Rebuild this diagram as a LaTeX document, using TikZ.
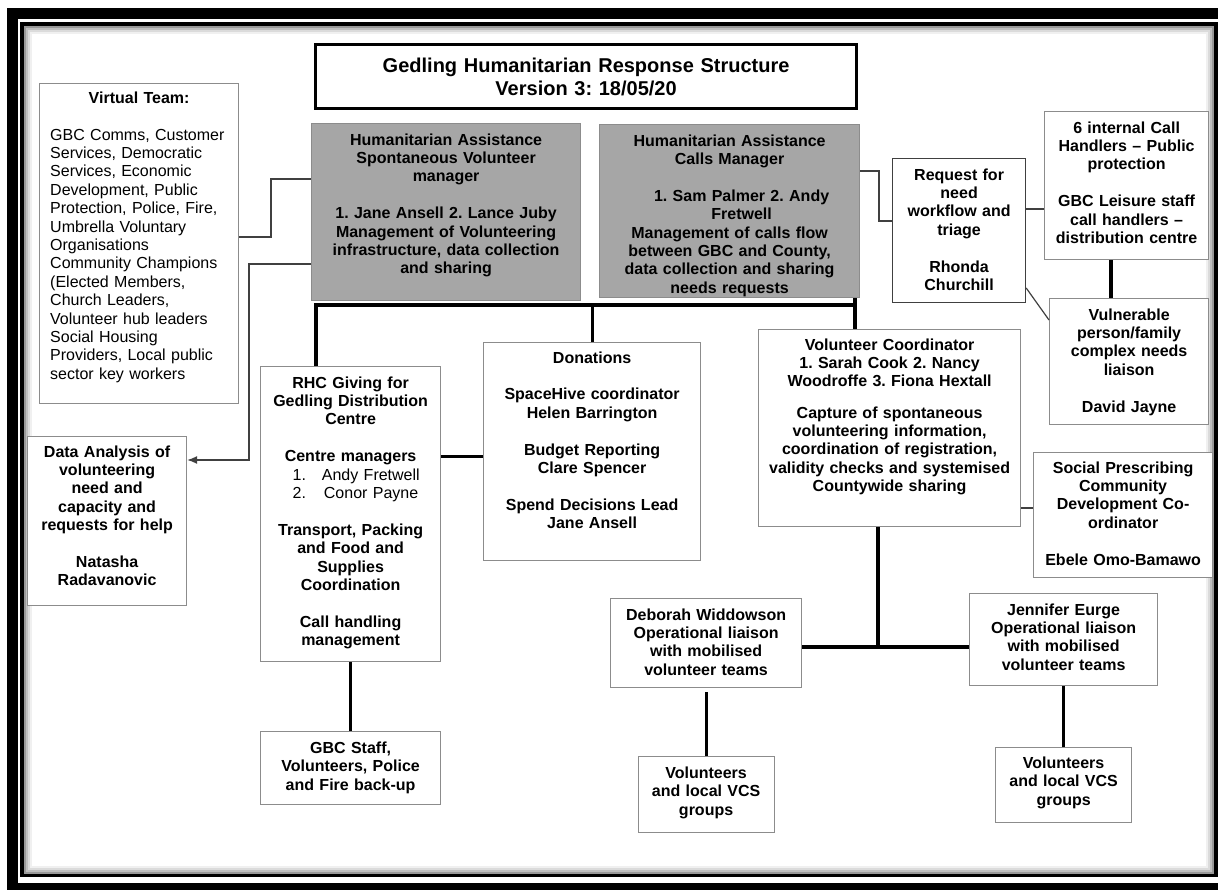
\documentclass[tikz,border=0pt]{standalone}
\usepackage{fontspec}
\setmainfont{Liberation Sans}
\usepackage{xcolor}
\usepackage{tikz}
\usetikzlibrary{positioning}
\usetikzlibrary{arrows.meta}

\definecolor{boxgrey}{HTML}{8C8C8C}
\definecolor{fillgrey}{HTML}{A6A6A6}
\definecolor{linegrey}{HTML}{404040}

\begin{document}
\frenchspacing
\begin{tikzpicture}[x=1pt, y=-1pt,
		box/.style={draw=boxgrey, line width=1.2pt, fill=white, inner sep=0pt, anchor=north west},
		greybox/.style={box, fill=fillgrey},
		txt/.style={inner sep=0pt, anchor=base, align=center, font=\fontsize{16}{18.4}\selectfont\bfseries},
		link/.style={draw=linegrey, line width=1.2pt},
		heavy/.style={draw=black, line width=3.2pt}]
		
		\useasboundingbox (0,0) rectangle (1218,889);
		\clip (0,0) rectangle (1218,889);
		\draw[line width=11pt] (12,13.5) rectangle (1235,888);
		\draw[line width=3.5pt] (22,24) rectangle (1216,875.5);
		\foreach \k/\c in {3/40,5/25,7/14,9/6}
			\draw[black!\c, line width=2pt] (22+\k,24+\k) rectangle (1216-\k,875.5-\k);
		
		\node[box, draw=black, line width=3.2pt, minimum width=541pt, minimum height=64pt](title) at (314,43){};
		\node[txt, text width=530pt, font=\fontsize{20}{23}\selectfont\bfseries](titletxt) at ([yshift=-29pt]title.north){Gedling Humanitarian Response Structure\\Version 3: 18/05/20};
		
		\node[box, minimum width=199pt, minimum height=320pt](vteam) at (39,83){};
		\node[txt, text width=190pt](vteamhead) at ([yshift=-20pt]vteam.north){Virtual Team:};
		\node[txt, anchor=base west, align=left, text width=185pt, font=\fontsize{16}{18.4}\selectfont](vteambody) at ([xshift=11pt, yshift=-57pt]vteam.north west){GBC Comms, Customer\\Services, Democratic\\Services, Economic\\Development, Public\\Protection, Police, Fire,\\Umbrella Voluntary\\Organisations\\Community Champions\\(Elected Members,\\Church Leaders,\\Volunteer hub leaders\\Social Housing\\Providers, Local public\\sector key workers};
		
		\node[greybox, minimum width=269pt, minimum height=177pt](spont) at (311,123){};
		\node[txt, text width=265pt](sponttxt) at ([yshift=-22pt]spont.north){Humanitarian Assistance\\Spontaneous Volunteer\\manager\\[18.4pt]1. Jane Ansell 2. Lance Juby\\Management of Volunteering\\infrastructure, data collection\\and sharing};
		
		\node[greybox, minimum width=260pt, minimum height=173pt](calls) at (599,124){};
		\node[txt, text width=256pt](callstxt) at ([yshift=-22pt]calls.north){Humanitarian Assistance\\Calls Manager\\[18.4pt]\hspace*{24pt}1. Sam Palmer 2. Andy\\\hspace*{24pt}Fretwell\\Management of calls flow\\between GBC and County,\\data collection and sharing\\needs requests};
		
		\node[box, draw=linegrey, minimum width=133pt, minimum height=144pt](request) at (892,158){};
		\node[txt, text width=131pt](requesttxt) at ([yshift=-22pt]request.north){Request for\\need\\workflow and\\triage\\[18.4pt]Rhonda\\Churchill};
		
		\node[box, minimum width=164pt, minimum height=148pt](handlers) at (1044,111){};
		\node[txt, text width=162pt](handlerstxt) at ([yshift=-22pt]handlers.north){6 internal Call\\Handlers – Public\\protection\\[18.4pt]GBC Leisure staff\\call handlers –\\distribution centre};
		
		\node[box, minimum width=159pt, minimum height=126pt](vuln) at (1049,298){};
		\node[txt, text width=157pt](vulntxt) at ([yshift=-22pt]vuln.north){Vulnerable\\person/family\\complex needs\\liaison\\[18.4pt]David Jayne};
		
		\node[box, minimum width=179pt, minimum height=125pt](social) at (1033,452){};
		\node[txt, text width=177pt](socialtxt) at ([yshift=-21pt]social.north){Social Prescribing\\Community\\Development Co-\\ordinator\\[18.4pt]Ebele Omo-Bamawo};
		
		\node[box, minimum width=159pt, minimum height=169pt](datan) at (27,436){};
		\node[txt, text width=157pt](datantxt) at ([yshift=-21pt]datan.north){Data Analysis of\\volunteering\\need and\\capacity and\\requests for help\\[18.4pt]Natasha\\Radavanovic};
		
		\node[box, minimum width=180pt, minimum height=295pt](rhc) at (260,366){};
		\node[txt, text width=174pt](rhctxt) at ([yshift=-22pt]rhc.north){RHC Giving for\\Gedling Distribution\\Centre\\[18.4pt]Centre managers\\\makebox[174pt][l]{\mdseries\hspace{29pt}1.\hspace{16pt}Andy Fretwell}\\\makebox[174pt][l]{\mdseries\hspace{29pt}2.\hspace{18pt}Conor Payne}\\[18.4pt]Transport, Packing\\and Food and\\Supplies\\Coordination\\[18.4pt]Call handling\\management};
		
		\node[box, anchor=north, below=69pt of rhc, minimum width=180pt, minimum height=73pt](backup){};
		\node[txt, text width=176pt](backuptxt) at ([yshift=-22pt]backup.north){GBC Staff,\\Volunteers, Police\\and Fire back-up};
		
		\node[box, minimum width=217pt, minimum height=218pt](donat) at (483,342){};
		\node[txt, text width=213pt](donattxt) at ([yshift=-21pt]donat.north){Donations\\[18.4pt]SpaceHive coordinator\\Helen Barrington\\[18.4pt]Budget Reporting\\Clare Spencer\\[18.4pt]Spend Decisions Lead\\Jane Ansell};
		
		\node[box, minimum width=262pt, minimum height=197pt](volco) at (758,329){};
		\node[txt, text width=258pt](volcotxt) at ([yshift=-21pt]volco.north){Volunteer Coordinator\\1. Sarah Cook 2. Nancy\\Woodroffe 3. Fiona Hextall\\[12.8pt]Capture of spontaneous\\volunteering information,\\coordination of registration,\\validity checks and systemised\\Countywide sharing};
		
		\node[box, minimum width=191pt, minimum height=89pt](debw) at (610,598){};
		\node[txt, text width=187pt](debwtxt) at ([yshift=-22pt]debw.north){Deborah Widdowson\\Operational liaison\\with mobilised\\volunteer teams};
		
		\node[box, minimum width=188pt, minimum height=92pt](jenn) at (969,593){};
		\node[txt, text width=184pt](jenntxt) at ([yshift=-22pt]jenn.north){Jennifer Eurge\\Operational liaison\\with mobilised\\volunteer teams};
		
		\node[box, anchor=north, below=68pt of debw, minimum width=136pt, minimum height=76pt](vcsa){};
		\node[txt, text width=134pt](vcsatxt) at ([yshift=-22pt]vcsa.north){Volunteers\\and local VCS\\groups};
		
		\node[box, anchor=north, below=61pt of jenn, minimum width=136pt, minimum height=75pt](vcsb){};
		\node[txt, text width=134pt](vcsbtxt) at ([yshift=-21pt]vcsb.north){Volunteers\\and local VCS\\groups};
		
		\coordinate (busL) at (316,305);
		\coordinate (busR) at (855,305);
		\coordinate (hub) at (878,647);
		
		\draw[link] (vteam.east |- 0,237) -- (271,237) -- (271,179) -- (spont.west |- 0,179);
		\draw[link, -{Latex[length=10pt, width=8pt]}] (spont.west |- 0,264) -- (249,264) -- (249,460) -- (datan.east |- 0,460);
		\draw[link] (calls.east |- 0,171) -- (879,171) -- (879,221) -- (request.west |- 0,221);
		\draw[link] (request.east |- 0,209) -- (handlers.west |- 0,209);
		\draw[link] (request.east |- 0,288) -- (vuln.west |- 0,320);
		\draw[link] (volco.east |- 0,508) -- (social.west |- 0,508);
		
		\draw[heavy] (busL |- rhc.north) -- (busL) -- (busR);
		\draw[heavy] (busR |- calls.south) -- (busR |- volco.north);
		\draw[heavy] (donat.north) -- (donat.north |- busL);
		\draw[heavy] ([yshift=-5pt]donat.west) -- ([yshift=-5pt]donat.west -| rhc.east);
		\draw[heavy] (backup.north) -- (backup.north |- rhc.south);
		\draw[heavy] (handlers.south -| 1111,0) -- (vuln.north -| 1111,0);
		\draw[heavy] (hub |- volco.south) -- (hub);
		\draw[heavy] (debw.east |- hub) -- (jenn.west |- hub);
		\draw[heavy] (vcsa.north) -- ([yshift=-4pt]vcsa.north |- debw.south);
		\draw[heavy] (vcsb.north) -- (vcsb.north |- jenn.south);
	\end{tikzpicture}
\end{document}
